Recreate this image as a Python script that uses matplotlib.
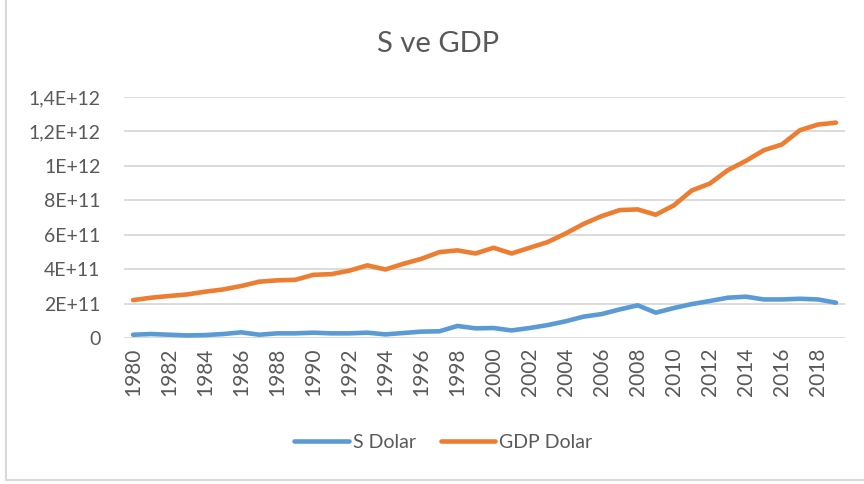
import matplotlib
matplotlib.use("Agg")
import matplotlib.pyplot as plt
from matplotlib.lines import Line2D

years = list(range(1980, 2020))

# values (x 1e11 USD)
s_dolar = [0.19, 0.23, 0.19, 0.15, 0.17, 0.23, 0.33, 0.19, 0.27, 0.27,
           0.31, 0.27, 0.27, 0.31, 0.21, 0.29, 0.37, 0.39, 0.70, 0.56,
           0.58, 0.44, 0.58, 0.75, 0.97, 1.24, 1.39, 1.66, 1.90, 1.47,
           1.74, 1.97, 2.15, 2.34, 2.40, 2.24, 2.24, 2.28, 2.24, 2.05]
gdp_dolar = [2.20, 2.34, 2.44, 2.53, 2.69, 2.82, 3.02, 3.27, 3.35, 3.38,
             3.67, 3.71, 3.91, 4.22, 3.98, 4.31, 4.60, 4.99, 5.09, 4.91,
             5.24, 4.91, 5.24, 5.57, 6.07, 6.63, 7.08, 7.43, 7.47, 7.16,
             7.70, 8.57, 8.97, 9.75, 10.29, 10.91, 11.24, 12.07, 12.40, 12.51]
s_dolar = [v * 1e11 for v in s_dolar]
gdp_dolar = [v * 1e11 for v in gdp_dolar]

y_ticks = [0, 2e11, 4e11, 6e11, 8e11, 1e12, 1.2e12, 1.4e12]
y_labels = ["0", "2E+11", "4E+11", "6E+11", "8E+11", "1E+12", "1,2E+12", "1,4E+12"]

blue = "#5B9BD5"
orange = "#ED7D31"
txt = "#595959"
grid = "#D9D9D9"

plt.rcParams["font.family"] = ["Lato", "DejaVu Sans"]

fig = plt.figure(figsize=(8.64, 4.84), dpi=100)
ax = fig.add_axes([124 / 864, 1 - 338 / 484, (845 - 124) / 864, (338 - 97) / 484])

ax.plot(years, s_dolar, color=blue, lw=3.3, solid_capstyle="round", solid_joinstyle="round")
ax.plot(years, gdp_dolar, color=orange, lw=3.3, solid_capstyle="round", solid_joinstyle="round")

ax.set_xlim(1979.5, 2019.5)
ax.set_ylim(0, 1.4e12)
ax.set_yticks(y_ticks)
ax.set_yticklabels(y_labels)
ax.set_xticks(years[::2])
ax.set_xticklabels([str(y) for y in years[::2]], rotation=90)
ax.tick_params(axis="y", length=0, pad=17, labelsize=14, labelcolor=txt)
ax.tick_params(axis="x", length=0, pad=7, labelsize=15, labelcolor=txt)
ax.grid(axis="y", color=grid, lw=1.3)
ax.set_axisbelow(True)
for s in ax.spines.values():
    s.set_visible(False)

fig.text(438 / 864, 1 - 44 / 484, "S ve GDP", ha="center", va="center", fontsize=21, color=txt)

handles = [Line2D([], [], color=blue, lw=3.3, solid_capstyle="round"),
           Line2D([], [], color=orange, lw=3.3, solid_capstyle="round")]
fig.legend(handles, ["S Dolar", "GDP Dolar"], loc="center", bbox_to_anchor=(0.513, 1 - 442 / 484),
           ncol=2, frameon=False, fontsize=14, labelcolor=txt, handlelength=2.8,
           handletextpad=0.2, columnspacing=1.3)

# chart area border (only left and bottom edges fall inside the crop)
fig.add_artist(Line2D([6 / 864, 6 / 864], [1 - 480 / 484, 1], color=grid, lw=1.5))
fig.add_artist(Line2D([6 / 864, 1], [1 - 480 / 484, 1 - 480 / 484], color=grid, lw=1.5))

fig.savefig("out.png", dpi=100)
